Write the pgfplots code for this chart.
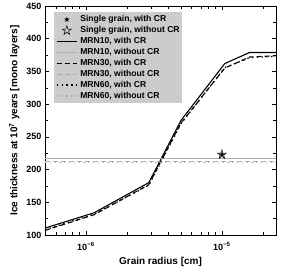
\documentclass[border=0pt]{standalone}
\usepackage{pgfplots}
\pgfplotsset{compat=1.18}
\usepackage{fontspec}
\setmainfont{Liberation Sans}
\pgfdeclareplotmark{fstar}{%
  \pgfpathmoveto{\pgfpointpolar{90}{\pgfplotmarksize}}%
  \pgfpathlineto{\pgfpointpolar{126}{0.382\pgfplotmarksize}}%
  \pgfpathlineto{\pgfpointpolar{162}{\pgfplotmarksize}}%
  \pgfpathlineto{\pgfpointpolar{198}{0.382\pgfplotmarksize}}%
  \pgfpathlineto{\pgfpointpolar{234}{\pgfplotmarksize}}%
  \pgfpathlineto{\pgfpointpolar{270}{0.382\pgfplotmarksize}}%
  \pgfpathlineto{\pgfpointpolar{306}{\pgfplotmarksize}}%
  \pgfpathlineto{\pgfpointpolar{342}{0.382\pgfplotmarksize}}%
  \pgfpathlineto{\pgfpointpolar{18}{\pgfplotmarksize}}%
  \pgfpathlineto{\pgfpointpolar{54}{0.382\pgfplotmarksize}}%
  \pgfpathclose\pgfusepathqfillstroke}
\pgfdeclareplotmark{ostar}{%
  \pgfpathmoveto{\pgfpointpolar{90}{\pgfplotmarksize}}%
  \pgfpathlineto{\pgfpointpolar{126}{0.382\pgfplotmarksize}}%
  \pgfpathlineto{\pgfpointpolar{162}{\pgfplotmarksize}}%
  \pgfpathlineto{\pgfpointpolar{198}{0.382\pgfplotmarksize}}%
  \pgfpathlineto{\pgfpointpolar{234}{\pgfplotmarksize}}%
  \pgfpathlineto{\pgfpointpolar{270}{0.382\pgfplotmarksize}}%
  \pgfpathlineto{\pgfpointpolar{306}{\pgfplotmarksize}}%
  \pgfpathlineto{\pgfpointpolar{342}{0.382\pgfplotmarksize}}%
  \pgfpathlineto{\pgfpointpolar{18}{\pgfplotmarksize}}%
  \pgfpathlineto{\pgfpointpolar{54}{0.382\pgfplotmarksize}}%
  \pgfpathclose\pgfusepathqstroke}
\pgfplotsset{
  lineleg/.style={legend image code/.code={\draw[##1] (0pt,0pt) -- (20pt,0pt);}},
  markleg/.style={legend image code/.code={\draw[##1] plot coordinates {(10pt,0pt)};}},
}
\definecolor{lgray}{gray}{0.68}
\definecolor{boxgray}{gray}{0.8}
\begin{document}
\begin{tikzpicture}
\begin{axis}[
  scale only axis, width=231pt, height=229pt,
  xmode=log, xmin=5e-7, xmax=2.5e-5,
  ymin=100, ymax=450, ytick={100,150,...,450}, minor y tick num=1,
  xtick={1e-6,1e-5}, xticklabels={10\textsuperscript{−6},10\textsuperscript{−5}},
  minor xtick={6e-7,7e-7,8e-7,9e-7,2e-6,3e-6,4e-6,5e-6,6e-6,7e-6,8e-6,9e-6,2e-5},
  tick align=inside,
  axis line style={line width=0.7pt},
  every tick/.style={black, line width=0.5pt},
  /pgf/number format/assume math mode=true,
  tick label style={font=\fontsize{9}{11}\selectfont\bfseries},
  xticklabel style={yshift=-4pt},
  label style={font=\fontsize{10}{12}\selectfont\bfseries},
  xlabel={Grain radius [cm]},
  ylabel={Ice thickness at 10\textsuperscript{7} years [mono layers]},
  legend cell align=left,
  lineleg,
  legend style={at={(0.039,0.974)}, anchor=north west, fill=boxgray, draw=none,
    font=\fontsize{8.6}{10}\selectfont\bfseries,
    nodes={inner sep=0.8pt, text height=7pt, text depth=2.3pt},
    inner xsep=2pt, inner ysep=2pt, column sep=2pt},
]
\addlegendimage{only marks, mark=fstar, mark size=2.2pt, black, markleg}
\addlegendentry{Single grain, with CR}
\addlegendimage{only marks, mark=ostar, mark size=4.8pt, black, line width=0.5pt, markleg}
\addlegendentry{Single grain, without CR}
\addplot[black, line width=1.1pt] coordinates {(5e-7,110.5) (1.15e-6,134) (2.9e-6,180) (5e-6,275) (1.05e-5,362) (1.6e-5,379) (2.5e-5,379)};
\addlegendentry{MRN10, with CR}
\addplot[lgray, line width=1.1pt] coordinates {(5e-7,217) (2.5e-5,217)};
\addlegendentry{MRN10, without CR}
\addplot[black, line width=1.1pt, dash pattern=on 5pt off 3pt] coordinates {(5e-7,107) (1.15e-6,131) (2.9e-6,177) (5e-6,271) (1.05e-5,355) (1.6e-5,372) (2.5e-5,374)};
\addlegendentry{MRN30, with CR}
\addplot[lgray, line width=1.1pt, dash pattern=on 5pt off 3pt] coordinates {(5e-7,212) (2.5e-5,212)};
\addlegendentry{MRN30, without CR}
\addplot[black, line width=1.3pt, dash pattern=on 1.3pt off 3.5pt] coordinates {(5e-7,108) (1.15e-6,132) (2.9e-6,176) (5e-6,270) (1.05e-5,356) (1.6e-5,371) (2.5e-5,373)};
\addlegendentry{MRN60, with CR}
\addplot[lgray, line width=1.3pt, dash pattern=on 1.3pt off 3.5pt] coordinates {(5e-7,211) (2.5e-5,211)};
\addlegendentry{MRN60, without CR}
\addplot[only marks, mark=ostar, mark size=4.8pt, black, line width=0.5pt, forget plot] coordinates {(1e-5,223)};
\addplot[only marks, mark=fstar, mark size=2.2pt, black, forget plot] coordinates {(1e-5,223)};
\coordinate (bl) at (rel axis cs:0,0);
\coordinate (tr) at (rel axis cs:1,1);
\end{axis}
\pgfresetboundingbox
\path[use as bounding box] ([shift={(-45pt,-37pt)}]bl) rectangle ([shift={(5pt,6pt)}]tr);
\end{tikzpicture}
\end{document}
